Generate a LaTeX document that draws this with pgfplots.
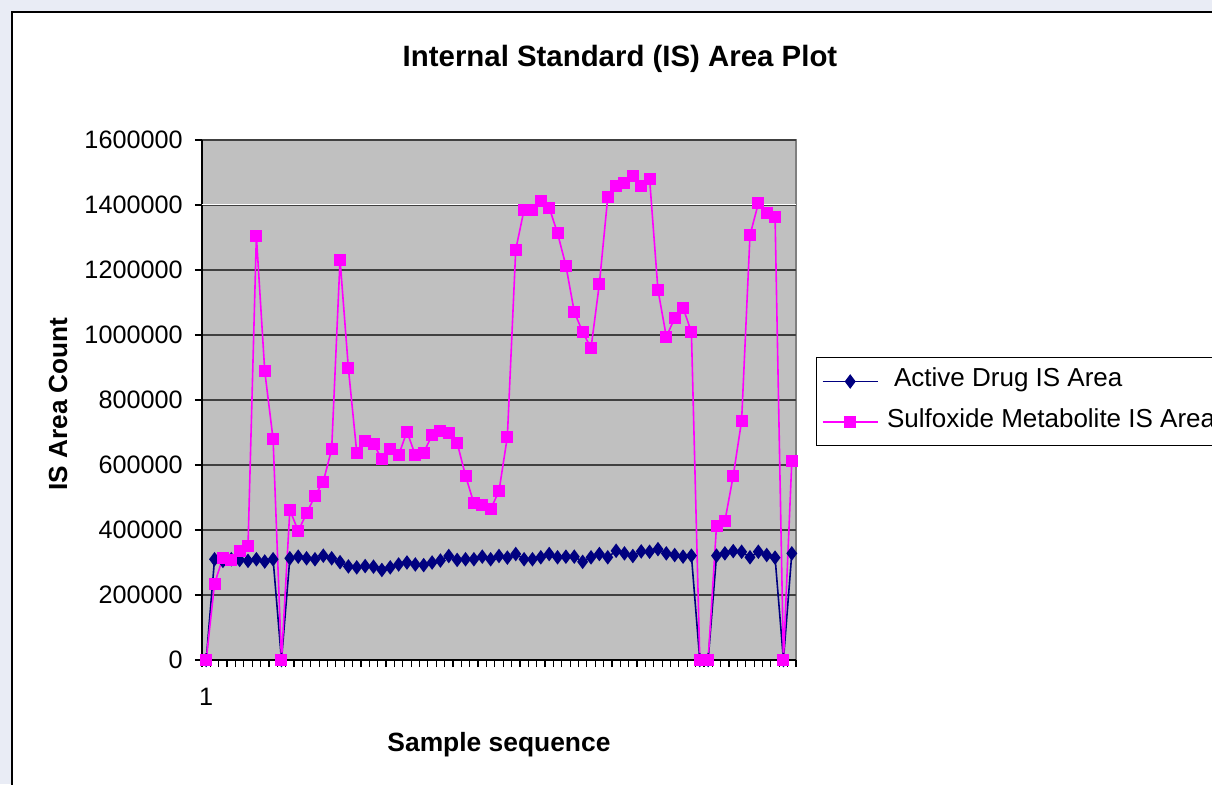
\documentclass[border=0pt]{standalone}
\usepackage{fontspec}
\setmainfont{Liberation Sans}
\usepackage{pgfplots}
\usepackage{pgfplotstable}
\pgfplotsset{compat=1.18}
\definecolor{plotbg}{RGB}{192,192,192}
\definecolor{pagebg}{RGB}{233,236,245}
\definecolor{navyc}{RGB}{0,0,128}
\definecolor{magc}{RGB}{255,0,255}

\pgfplotstableread{
x active sulfox
1 0 0
2 310000 235000
3 305000 315000
4 310000 308000
5 308000 335000
6 305000 351000
7 310000 1305000
8 303000 889000
9 310000 679000
10 0 0
11 313000 462000
12 318000 397000
13 313000 451000
14 310000 505000
15 321000 549000
16 313000 649000
17 301000 1232000
18 288000 897000
19 285000 638000
20 289000 674000
21 287000 666000
22 277000 617000
23 285000 649000
24 294000 630000
25 300000 703000
26 294000 630000
27 292000 638000
28 300000 692000
29 306000 704000
30 320000 699000
31 308000 668000
32 310000 567000
33 310000 482000
34 318000 476000
35 310000 464000
36 320000 520000
37 315000 687000
38 326000 1262000
39 310000 1386000
40 310000 1386000
41 316000 1411000
42 326000 1392000
43 316000 1313000
44 318000 1213000
45 318000 1071000
46 302000 1009000
47 316000 960000
48 326000 1158000
49 316000 1424000
50 336000 1457000
51 328000 1467000
52 320000 1489000
53 334000 1460000
54 333000 1481000
55 341000 1139000
56 328000 995000
57 323000 1052000
58 318000 1084000
59 321000 1009000
60 0 0
61 0 0
62 321000 413000
63 328000 427000
64 335000 567000
65 333000 736000
66 316000 1307000
67 333000 1405000
68 323000 1375000
69 315000 1362000
70 0 0
71 328000 612000
}\datatable

\begin{document}
\begin{tikzpicture}
\begin{scope}
\clip (0,0) rectangle (606pt,392pt);
\fill[pagebg] (0,0) rectangle (606pt,392pt);
\filldraw[fill=white, draw=black, line width=0.8pt] (6pt,-10pt) rectangle (620pt,386pt);
\node[font=\fontsize{14.7}{17}\selectfont\bfseries] at (310pt,362.5pt) {Internal Standard (IS) Area Plot};
\node[font=\fontsize{13.1}{15}\selectfont\bfseries, rotate=90] at (29pt,190pt) {IS Area Count};
\node[font=\fontsize{13.2}{15}\selectfont\bfseries] at (249.5pt,19.5pt) {Sample sequence};
\begin{axis}[
  at={(101pt,62pt)}, anchor=south west,
  scale only axis, width=297pt, height=260pt,
  xmin=0.5, xmax=71.5, ymin=0, ymax=1600000,
  axis x line*=bottom, axis y line*=left,
  axis line style={black, line width=0.6pt},
  axis background/.style={fill=plotbg, draw=gray, line width=0.6pt},
  xtick={1}, xticklabels={1},
  minor xtick={0.5,1.5,...,71.5},
  ytick={0,200000,...,1600000},
  minor ytick={0,200000,...,1600000},
  scaled y ticks=false,
  /pgf/number format/assume math mode=true,
  yticklabel style={/pgf/number format/fixed, /pgf/number format/1000 sep={}, anchor=east, inner sep=0pt, xshift=-9.5pt},
  xticklabel style={anchor=center, inner sep=0pt, yshift=-18.5pt},
  ticklabel style={font=\fontsize{12.6}{15}\selectfont},
  tick align=outside,
  major tick length=0pt, minor tick length=3.5pt,
  tick style={black, line width=0.6pt},
  ymajorgrids, grid style={black!75, line width=0.6pt},
  extra y ticks={1401500}, extra y tick labels={},
  extra y tick style={grid style={white, line width=0.6pt}},
  clip=false,
  legend style={at={(1.0332,0.5821)}, anchor=north west, draw=black, fill=white,
    font=\fontsize{13}{15.6}\selectfont, inner xsep=2.9pt, inner ysep=1.8pt, row sep=0pt,
    /tikz/column sep=0pt,
    nodes={inner ysep=5.5pt, inner xsep=4.3pt, text height=0.72em, text depth=0.2em}},
  legend cell align=left,
  legend image code/.code={\draw[mark repeat=2,mark phase=2,#1] plot coordinates {(0pt,0pt) (13.75pt,0pt) (27.5pt,0pt)};},
]
\addplot[navyc, line width=0.8pt, mark=diamond*, mark size=3pt, mark options={solid, fill=navyc}] table[x=x,y=active]{\datatable};
\addlegendentry{\hspace{3.5pt}Active Drug IS Area}
\addplot[magc, line width=0.8pt, mark=square*, mark size=2.6pt, mark options={solid, fill=magc}] table[x=x,y=sulfox]{\datatable};
\addlegendentry{Sulfoxide Metabolite IS Area}
\end{axis}
\end{scope}
\pgfresetboundingbox
\path[use as bounding box] (0,0) rectangle (606pt,392pt);
\end{tikzpicture}
\end{document}
